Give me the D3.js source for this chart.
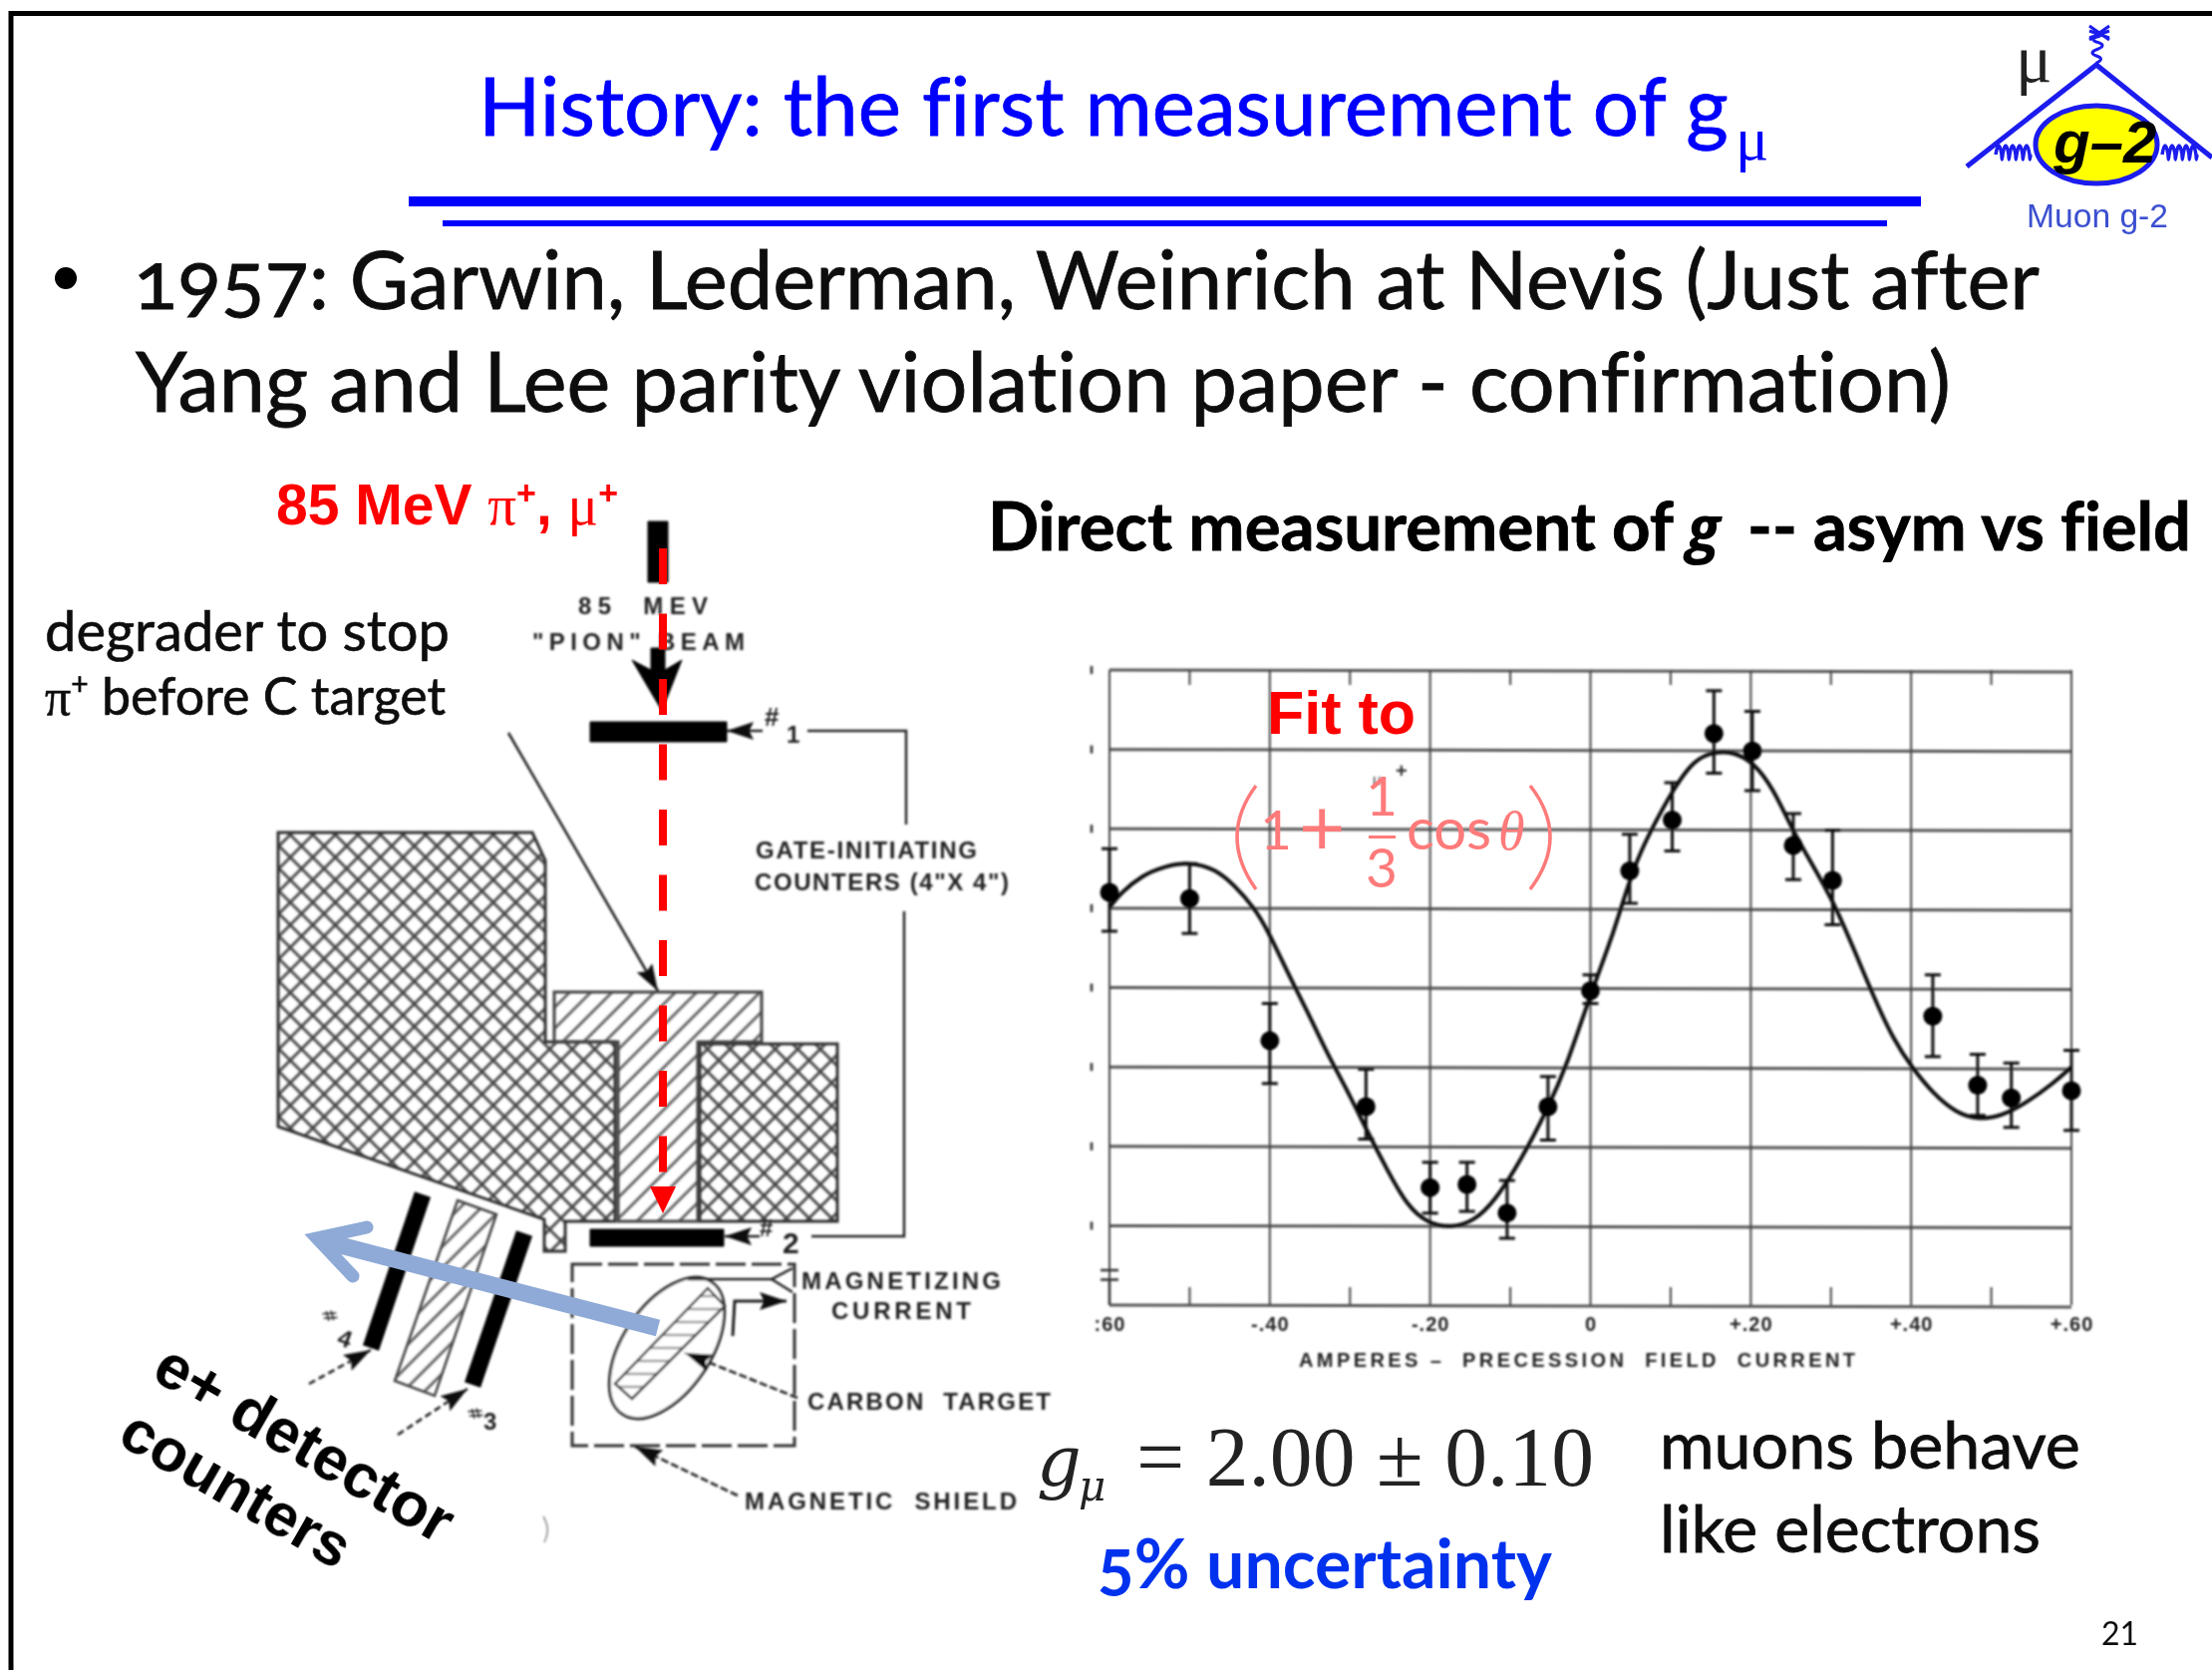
<!DOCTYPE html>
<html>
<head>
<meta charset="utf-8">
<script src="https://cdn.jsdelivr.net/npm/d3@7"></script>
<style>
  html, body { margin: 0; background: #fff; }
  svg { display: block; }
  text { white-space: pre; font-variant-ligatures: none; }
  .scan { font-family: "Liberation Sans"; font-weight: 700; fill: #222; }
</style>
</head>
<body>
<svg id="slide" width="2219" height="1675"></svg>
<script>
// --- data. y is in units of the (unlabelled) grid rows, bottom = 0
const current   = [-60, -50, -40, -28, -20, -15.4, -10.4, -5.3, 0, 4.9, 10.2, 15.4, 20.2, 25.3, 30.2, 42.7, 48.3, 52.5, 60];
const asym      = [5.20, 5.12, 3.33, 2.50, 1.48, 1.52, 1.16, 2.50, 3.96, 5.47, 6.11, 7.20, 6.98, 5.79, 5.35, 3.64, 2.77, 2.61, 2.70];
const asymLow   = [4.71, 4.68, 2.79, 2.09, 1.16, 1.18, 0.84, 2.08, 3.80, 5.06, 5.72, 6.70, 6.48, 5.36, 4.79, 3.13, 2.39, 2.24, 2.20];
const asymHigh  = [5.75, 5.56, 3.80, 2.97, 1.80, 1.80, 1.57, 2.88, 4.16, 5.93, 6.58, 7.74, 7.48, 6.19, 5.98, 4.16, 3.16, 3.05, 3.21];

const fitCurrent = [-60, -58.5, -56, -53.1, -50, -46.9, -44.4, -41.9, -40.2, -37.8, -35.3, -32.8, -30.3, -27.8, -25.3, -22.8, -20.3, -17.4, -14.5, -12, -8.7, -5.4, -2.9, 0, 2.9, 5.4, 7.9, 10.4, 12.9, 15.4, 17.8, 20.3, 22.8, 25.3, 27.8, 30.3, 32.8, 35.3, 37.8, 40.2, 42.7, 45.6, 48.5, 51.5, 54.4, 57.7, 60];
const fitAsym    = [5.01, 5.20, 5.41, 5.53, 5.58, 5.50, 5.29, 5.00, 4.71, 4.19, 3.70, 3.16, 2.70, 2.18, 1.69, 1.24, 1.03, 0.97, 1.06, 1.30, 1.82, 2.46, 3.03, 3.92, 4.68, 5.54, 6.05, 6.51, 6.87, 6.97, 6.97, 6.84, 6.51, 5.96, 5.53, 5.08, 4.50, 3.89, 3.34, 2.98, 2.67, 2.42, 2.33, 2.39, 2.55, 2.79, 3.00];

const xGrid      = [-60, -40, -20, 0, 20, 40, 60];
const xTickLabel = [":60", "-.40", "-.20", "0", "+.20", "+.40", "+.60"];
const xMinor     = [-50, -30, -10, 10, 30, 50];
const yGrid      = [0, 1, 2, 3, 4, 5, 6, 7, 8];
const scaleBar   = [0.32, 0.44];   // little I-shaped mark at the lower left

const svg = d3.select("#slide");
const defs = svg.append("defs");
defs.append("filter").attr("id", "soft").append("feGaussianBlur").attr("stdDeviation", 1);
defs.append("filter").attr("id", "softer").append("feGaussianBlur").attr("stdDeviation", 0.55);

function hatchPattern(id, size, angle, cross, col, sw) {
  const p = defs.append("pattern").attr("id", id).attr("patternUnits", "userSpaceOnUse")
    .attr("width", size).attr("height", size).attr("patternTransform", `rotate(${angle})`);
  p.append("line").attr("x1", 0).attr("x2", size).attr("y1", 0).attr("y2", 0).attr("stroke", col).attr("stroke-width", sw);
  p.append("line").attr("x1", 0).attr("x2", size).attr("y1", size).attr("y2", size).attr("stroke", col).attr("stroke-width", sw);
  if (cross) {
    p.append("line").attr("x1", 0).attr("x2", 0).attr("y1", 0).attr("y2", size).attr("stroke", col).attr("stroke-width", sw);
    p.append("line").attr("x1", size).attr("x2", size).attr("y1", 0).attr("y2", size).attr("stroke", col).attr("stroke-width", sw);
  }
}
hatchPattern("cross", 16, 45, true, "#444", 2.8);
hatchPattern("diag", 15, -45, false, "#555", 2.6);
hatchPattern("flat", 13, 0, false, "#999", 2.4);

defs.append("marker").attr("id", "head").attr("viewBox", "0 0 12 8").attr("refX", 12).attr("refY", 4)
  .attr("markerWidth", 28).attr("markerHeight", 18).attr("markerUnits", "userSpaceOnUse").attr("orient", "auto")
  .append("path").attr("d", "M0,0L12,4L0,8L2,4Z").attr("fill", "#111");

// helper: sets font size so the text spans the width measured on the slide
function fit(sel, width) {
  sel.style("font-size", "100px");
  const n = sel.node().getComputedTextLength();
  sel.style("font-size", (100 * width / n).toFixed(2) + "px");
  return sel;
}
function label(parent, x, y, str, font, fill, weight) {
  return parent.append("text").attr("x", x).attr("y", y).text(str)
    .style("font-family", font).attr("fill", fill).style("font-weight", weight || 400);
}
const heavy = (sel, col, w) => sel.attr("stroke", col).attr("stroke-width", w || 0.8);

// ---------- frame, title, rules ----------
svg.append("rect").attr("x", 0).attr("y", 0).attr("width", 2219).attr("height", 1675).attr("fill", "#fff");
svg.append("line").attr("x1", 9).attr("x2", 2219).attr("y1", 13.5).attr("y2", 13.5).attr("stroke", "#000").attr("stroke-width", 5);
svg.append("line").attr("x1", 11).attr("x2", 11).attr("y1", 11).attr("y2", 1675).attr("stroke", "#000").attr("stroke-width", 5);

const SLIDE = "Lato, 'Open Sans'";
const slideText = svg.append("g").attr("filter", "url(#softer)");
heavy(fit(label(slideText, 480, 136, "History: the first measurement of g", SLIDE, "#0000ff"), 1254), "#0000ff");
label(slideText, 1741, 160, "μ", "'Liberation Serif'", "#0000ff").style("font-size", "62px");
svg.append("rect").attr("x", 410).attr("y", 197).attr("width", 1517).attr("height", 10).attr("fill", "#0000ff");
svg.append("rect").attr("x", 444).attr("y", 221).attr("width", 1449).attr("height", 6).attr("fill", "#0000ff");

svg.append("circle").attr("cx", 66).attr("cy", 279).attr("r", 11).attr("fill", "#000");
heavy(fit(label(slideText, 134, 310, "1957: Garwin, Lederman, Weinrich at Nevis (Just after", SLIDE, "#111").style("font-feature-settings", '"onum"'), 1912), "#111");
heavy(fit(label(slideText, 136, 413, "Yang and Lee parity violation paper - confirmation)", SLIDE, "#111"), 1821), "#111");

// ---------- apparatus sketch ----------
const sketch = svg.append("g").attr("filter", "url(#soft)").attr("transform", "translate(-3,0)");
const poly = (pts, fill, stroke, sw) => sketch.append("path")
  .attr("d", d3.line()(pts) + "Z").attr("fill", fill).attr("stroke", stroke || "#333").attr("stroke-width", sw || 3);
const wire = (pts, sw, dash, marker) => {
  const p = sketch.append("path").attr("d", d3.line()(pts)).attr("fill", "none").attr("stroke", "#222").attr("stroke-width", sw || 2.5);
  if (dash) p.attr("stroke-dasharray", dash);
  if (marker) p.attr("marker-end", "url(#head)");
  return p;
};
const bar = (x0, y0, x1, y1) => poly([[x0, y0], [x1, y0], [x1, y1], [x0, y1]], "#000", "#000", 1);

poly([[282, 835], [537, 835], [550, 863], [550, 1045], [620, 1045], [620, 1225], [570, 1225], [570, 1255], [549, 1255], [549, 1223], [282, 1130]], "url(#cross)");
poly([[705, 1047], [843, 1047], [843, 1225], [705, 1225]], "url(#cross)");
poly([[559, 995], [767, 995], [767, 1045], [703, 1045], [703, 1225], [623, 1225], [623, 1045], [559, 1045]], "url(#diag)", "#444", 3);

// beam + counters 1, 2
bar(653, 523, 673, 584);
poly([[637, 662], [656, 672], [656, 650], [670, 650], [670, 672], [687, 662], [667, 713]], "#000", "#000", 1);
bar(595, 724, 732, 744);
bar(595, 1233, 729, 1250);
wire([[768, 733], [732, 733]], 2.5, null, true);
wire([[765, 1240], [730, 1240]], 2.5, null, true);
wire([[813, 733], [912, 733], [912, 827]], 2.5);
wire([[910, 914], [910, 1240], [817, 1240]], 2.5);
wire([[513, 735], [663, 994]], 2.5, null, true);

// counters 3, 4 and absorber
sketch.append("line").attr("x1", 427).attr("y1", 1198).attr("x2", 375).attr("y2", 1352).attr("stroke", "#000").attr("stroke-width", 17);
sketch.append("line").attr("x1", 529).attr("y1", 1237).attr("x2", 477).attr("y2", 1389).attr("stroke", "#000").attr("stroke-width", 17);
poly([[462, 1204], [501, 1218], [439, 1400], [399, 1385]], "url(#diag)", "#444", 2.5);
wire([[313, 1388], [375, 1354]], 2.5, "7 4", true);
wire([[402, 1439], [472, 1393]], 2.5, "7 4", true);

// magnetic shield box and target
sketch.append("rect").attr("x", 577).attr("y", 1268).attr("width", 223).attr("height", 182)
  .attr("fill", "none").attr("stroke", "#333").attr("stroke-width", 3).attr("stroke-dasharray", "30 6");
sketch.append("ellipse").attr("cx", 672).attr("cy", 1352).attr("rx", 80).attr("ry", 44)
  .attr("transform", "rotate(-56 672 1352)").attr("fill", "#fff").attr("stroke", "#333").attr("stroke-width", 3);
poly([[713, 1292], [730, 1310], [637, 1403], [620, 1388]], "url(#flat)", "#333", 2.5);
wire([[693, 1283], [716, 1283], [777, 1283], [798, 1272]], 2.5);
wire([[777, 1283], [798, 1296]], 2.5);
wire([[738, 1340], [740, 1305], [792, 1305]], 3, null, true);
wire([[803, 1402], [690, 1357]], 2.5, "8 3", true);
wire([[743, 1500], [640, 1451]], 2.5, "8 3", true);
sketch.append("path").attr("d", "M548,1521Q556,1534 549,1547").attr("fill", "none").attr("stroke", "#888").attr("stroke-width", 1.5);

const scanText = [
  ["85  MEV", 583, 616, 130],
  ['"PION" BEAM', 537, 652, 213],
  ["GATE-INITIATING", 761, 861, 222],
  ['COUNTERS (4"X 4")', 760, 893, 255],
  ["MAGNETIZING", 807, 1293, 200],
  ["CURRENT", 837, 1323, 140],
  ["CARBON  TARGET", 813, 1414, 244],
  ["MAGNETIC  SHIELD", 750, 1514, 273]
];
scanText.forEach(d => {
  sketch.append("text").attr("class", "scan").attr("x", d[1]).attr("y", d[2]).text(d[0])
    .style("font-size", "24px").attr("textLength", d[3]).attr("lengthAdjust", "spacing");
});
[["#", 770, 728, 26], ["1", 792, 745, 24], ["#", 765, 1240, 24], ["2", 788, 1257, 30]].forEach(d => {
  sketch.append("text").attr("class", "scan").attr("x", d[1]).attr("y", d[2]).text(d[0]).style("font-size", d[3] + "px");
});
sketch.append("text").attr("class", "scan").attr("transform", "translate(326,1316) rotate(75)").text("#").style("font-size", "20px");
sketch.append("text").attr("class", "scan").attr("transform", "translate(340,1348) rotate(20)").text("4").style("font-size", "24px");
sketch.append("text").attr("class", "scan").attr("transform", "translate(472,1414) rotate(75)").text("#").style("font-size", "20px");
sketch.append("text").attr("class", "scan").attr("x", 488).attr("y", 1434).text("3").style("font-size", "24px");

// overlays on the sketch: red beam and blue decay arrow
svg.append("line").attr("x1", 665).attr("x2", 665).attr("y1", 550).attr("y2", 1180)
  .attr("stroke", "#ff0000").attr("stroke-width", 8).attr("stroke-dasharray", "36 29.5");
svg.append("path").attr("d", d3.line()([[652, 1190], [678, 1190], [665, 1217]]) + "Z").attr("fill", "#ff0000");
const blue = "#8faad6";
svg.append("line").attr("x1", 660).attr("y1", 1332).attr("x2", 322).attr("y2", 1244).attr("stroke", blue).attr("stroke-width", 17);
svg.append("path").attr("d", d3.line()([[368, 1231], [318, 1242], [354, 1280]]))
  .attr("fill", "none").attr("stroke", blue).attr("stroke-width", 13).attr("stroke-linejoin", "miter").attr("stroke-linecap", "round");

// slide annotations around the sketch
const red85 = label(slideText, 277, 526, "85 MeV ", "'Liberation Sans'", "#ff0000", 700).style("font-size", "57px");
red85.append("tspan").style("font-family", "'Liberation Serif'").style("font-weight", 400).text("π");
red85.append("tspan").attr("dy", -20).style("font-size", "34px").text("+");
red85.append("tspan").attr("dy", 20).text(", ");
red85.append("tspan").style("font-family", "'Liberation Serif'").style("font-weight", 400).text("μ");
red85.append("tspan").attr("dy", -20).style("font-size", "34px").text("+");
heavy(fit(label(slideText, 45, 653, "degrader to stop", SLIDE, "#111"), 406), "#111", 0.6);
const before = heavy(label(slideText, 45, 717, "π", "'Liberation Serif'", "#111"), "#111", 0.6).style("font-size", "52px");
before.append("tspan").attr("dy", -20).style("font-size", "30px").style("font-family", SLIDE).text("+");
before.append("tspan").attr("dy", 20).style("font-family", SLIDE).text(" before C target");

const rot = (x, y, str, w) => {
  const t = svg.append("text").attr("transform", `translate(${x},${y}) rotate(30)`).text(str)
    .style("font-family", "'Liberation Sans'").style("font-weight", 700).attr("fill", "#000").attr("filter", "url(#softer)");
  fit(t, w);
};
rot(150, 1382, "e+ detector", 335);
rot(116, 1447, "counters", 256);

// ---------- asymmetry plot ----------
const x = d3.scaleLinear().domain([-60, 60]).range([1113, 2078]);
const y = d3.scaleLinear().domain([0, 8]).range([1309, 672]);
const plot = svg.append("g").attr("filter", "url(#soft)");

plot.selectAll("line.hg").data(yGrid).join("line").attr("class", "hg")
  .attr("x1", x(-60)).attr("x2", x(60)).attr("y1", d => y(d)).attr("y2", d => y(d) + 2)
  .attr("stroke", "#555").attr("stroke-width", 3);
plot.selectAll("line.vg").data(xGrid).join("line").attr("class", "vg")
  .attr("x1", d => x(d)).attr("x2", d => x(d)).attr("y1", y(8)).attr("y2", y(0))
  .attr("stroke", "#444").attr("stroke-width", 2);
plot.selectAll("line.mb").data(xMinor).join("line").attr("class", "mb")
  .attr("x1", d => x(d)).attr("x2", d => x(d)).attr("y1", y(0)).attr("y2", y(0) - 18)
  .attr("stroke", "#444").attr("stroke-width", 2);
plot.selectAll("line.mt").data(xMinor).join("line").attr("class", "mt")
  .attr("x1", d => x(d)).attr("x2", d => x(d)).attr("y1", y(8)).attr("y2", y(8) + 15)
  .attr("stroke", "#444").attr("stroke-width", 2);
plot.selectAll("line.yt").data(yGrid.slice(1)).join("line").attr("class", "yt")
  .attr("x1", 1095).attr("x2", 1095).attr("y1", d => y(d) - 4).attr("y2", d => y(d) + 4)
  .attr("stroke", "#333").attr("stroke-width", 2.5);

// lower-left I mark
plot.append("path").attr("d", `M${x(-60)},${y(0)}V${y(scaleBar[0])}M${x(-60) - 9},${y(scaleBar[0])}h18M${x(-60) - 9},${y(scaleBar[1])}h18`)
  .attr("fill", "none").attr("stroke", "#333").attr("stroke-width", 2.5);

const xAxis = d3.axisBottom(x).tickValues(xGrid).tickSize(0).tickPadding(12)
  .tickFormat((d, i) => xTickLabel[i]);
const ax = plot.append("g").attr("transform", `translate(0,${y(0)})`).call(xAxis);
ax.select(".domain").remove();
ax.selectAll("text").attr("class", "scan").attr("fill", "#222").style("font-size", "20px").style("letter-spacing", "1px");
plot.append("text").attr("class", "scan").attr("x", 1303).attr("y", 1371).text("AMPERES –  PRECESSION  FIELD  CURRENT")
  .style("font-size", "20px").attr("textLength", 558).attr("lengthAdjust", "spacing");

// fit curve
const fitPts = fitCurrent.map((c, i) => [x(c), y(fitAsym[i])]);
plot.append("path").attr("d", d3.line().curve(d3.curveBasis)(fitPts)).attr("fill", "none")
  .attr("stroke", "#111").attr("stroke-width", 4);

// points with error bars
const rows = current.map((c, i) => ({ c, v: asym[i], lo: asymLow[i], hi: asymHigh[i] }));
plot.selectAll("path.err").data(rows).join("path").attr("class", "err")
  .attr("d", d => `M${x(d.c)},${y(d.lo)}V${y(d.hi)}M${x(d.c) - 8},${y(d.lo)}h16M${x(d.c) - 8},${y(d.hi)}h16`)
  .attr("fill", "none").attr("stroke", "#111").attr("stroke-width", 3);
plot.selectAll("circle.pt").data(rows).join("circle").attr("class", "pt")
  .attr("cx", d => x(d.c)).attr("cy", d => y(d.v)).attr("r", 9.5).attr("fill", "#000");

// small mu+ left from the original figure
plot.append("text").attr("x", 1377).attr("y", 787).text("μ").style("font-family", "'Liberation Sans'").style("font-size", "15px").attr("fill", "#333");
plot.append("text").attr("x", 1400).attr("y", 780).text("+").style("font-family", "'Liberation Sans'").style("font-weight", 700).style("font-size", "20px").attr("fill", "#333");

// red fit annotation
const note = svg.append("g").attr("filter", "url(#softer)");
label(note, 1271, 736, "Fit to", "'Liberation Sans'", "#ff0000", 700).style("font-size", "61px");
const pink = "#ff7a7a";
const paren = [[1260, 788, 1222, 839, 1260, 892], [1535, 788, 1575, 839, 1535, 892]];
note.selectAll("path.par").data(paren).join("path").attr("class", "par")
  .attr("d", d => `M${d[0]},${d[1]}Q${d[2]},${d[3]} ${d[4]},${d[5]}`)
  .attr("fill", "none").attr("stroke", pink).attr("stroke-width", 3.5);
label(note, 1264, 852, "1", SLIDE, pink).style("font-size", "55px");
label(note, 1303, 858, "+", SLIDE, pink).style("font-size", "80px");
label(note, 1370, 818, "1", SLIDE, pink).style("font-size", "55px");
note.append("rect").attr("x", 1373).attr("y", 838).attr("width", 27).attr("height", 3).attr("fill", pink);
label(note, 1370, 890, "3", SLIDE, pink).style("font-size", "55px");
label(note, 1411, 852, "cos", SLIDE, pink).style("font-size", "58px");
label(note, 1503, 852, "θ", "'Liberation Serif'", pink).style("font-size", "54px").style("font-style", "italic");

// headline and result text
heavy(fit(label(slideText, 991, 552, "Direct measurement of", SLIDE, "#000", 700), 688), "#000");
label(slideText, 1692, 552, "g", "'Open Sans'", "#000", 700).style("font-size", "62px").style("font-style", "italic");
heavy(fit(label(slideText, 1753, 552, "-- asym vs field", SLIDE, "#000", 700), 445), "#000");

const res = slideText.append("g");
label(res, 1040, 1490, "g", "'DejaVu Serif'", "#222").style("font-size", "70px").style("font-style", "italic");
label(res, 1082, 1505, "μ", "'DejaVu Serif'", "#222").style("font-size", "42px").style("font-style", "italic");
fit(label(res, 1140, 1490, "= 2.00 ± 0.10", "'Liberation Serif'", "#222"), 459);
heavy(fit(label(slideText, 1665, 1473, "muons behave", SLIDE, "#111"), 422), "#111");
heavy(fit(label(slideText, 1665, 1557, "like electrons", SLIDE, "#111"), 382), "#111");
fit(label(slideText, 1101, 1593, "5% uncertainty", SLIDE, "#0033ee", 700).style("font-feature-settings", '"onum"'), 456);
label(slideText, 2108, 1650, "21", SLIDE, "#111").style("font-size", "32px");

// ---------- g-2 logo, top right ----------
const logo = svg.append("g").attr("filter", "url(#softer)");
const lblue = "#1a1aee";
logo.append("path").attr("d", d3.line()([[1973, 167], [2103, 65], [2219, 158]])).attr("fill", "none").attr("stroke", lblue).attr("stroke-width", 5);
logo.append("ellipse").attr("cx", 2103).attr("cy", 145).attr("rx", 61).attr("ry", 39).attr("fill", "#ffff00").attr("stroke", lblue).attr("stroke-width", 5);
const wiggle = (x0, n) => {
  let d = `M${x0},155`;
  for (let i = 0; i < n; i++) d += `q3,-18 6,0 q0,10 1,0`;
  logo.append("path").attr("d", d).attr("fill", "none").attr("stroke", lblue).attr("stroke-width", 3.5);
};
wiggle(2002, 5);
wiggle(2169, 5);
logo.append("path").attr("d", "M2103,63q9,-4 0,-7q-9,-3 2,-7q9,-4 -2,-7q-8,-3 4,-6M2096,26l20,14M2116,26l-20,14M2096,38l20,-7M2096,31l20,7")
  .attr("fill", "none").attr("stroke", lblue).attr("stroke-width", 3);
label(logo, 2022, 82, "μ", "'Liberation Serif'", "#222").style("font-size", "68px");
label(logo, 2060, 163, "g–2", "'Liberation Sans'", "#000", 700).style("font-size", "60px").style("font-style", "italic");
fit(label(logo, 2033, 228, "Muon g-2", "'Liberation Sans'", "#3a4fd0"), 142);
</script>
</body>
</html>
